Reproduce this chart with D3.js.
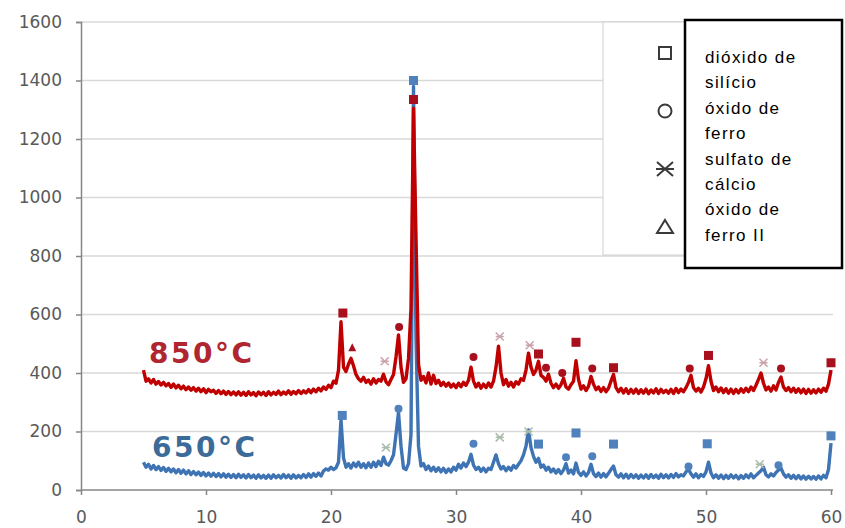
<!DOCTYPE html>
<html>
<head>
<meta charset="utf-8">
<script src="https://cdn.jsdelivr.net/npm/d3@7"></script>
<style>
  html, body { margin: 0; padding: 0; background: #fff; }
  svg { display: block; }
</style>
</head>
<body>
<div id="chart"></div>
<script>
// 2-theta grid: 5.0 .. 60.0 in steps of 0.2 (276 points)
const twoTheta = d3.range(276).map(i => +(5 + i * 0.2).toFixed(1));

// intensities, one row = 2 degrees
const int850 = [
  410, 372, 380, 366, 378, 362, 371, 359, 368, 356,
  364, 351, 362, 349, 358, 346, 355, 343, 352, 341,
  350, 338, 348, 336, 346, 333, 344, 336, 341, 330,
  340, 329, 338, 327, 337, 326, 335, 325, 336, 324,
  334, 323, 336, 325, 333, 322, 335, 326, 334, 323,
  336, 325, 334, 327, 338, 326, 335, 328, 339, 327,
  337, 329, 340, 330, 339, 332, 343, 333, 345, 336,
  348, 339, 352, 344, 358, 350, 372, 365, 410, 575,
  420, 405, 430, 450, 425, 395, 380, 372, 385, 368,
  376, 362, 380, 366, 378, 372, 396, 370, 360, 378,
  395, 455, 530, 420, 368, 380, 450, 620, 1305, 860,
  430, 375, 388, 366, 400, 362, 392, 364, 375, 357,
  368, 355, 366, 352, 362, 350, 365, 353, 368, 358,
  375, 420, 372, 352, 365, 348, 362, 350, 366, 352,
  372, 420, 492, 400, 360, 378, 355, 368, 352, 370,
  362, 380, 375, 410, 468, 420, 395, 410, 440, 392,
  385, 372, 396, 365, 350, 362, 348, 360, 382, 352,
  345, 360, 372, 442, 378, 345, 356, 340, 354, 388,
  362, 343, 352, 337, 350, 336, 348, 372, 395, 350,
  336, 348, 332, 346, 330, 344, 331, 345, 330, 343,
  331, 345, 329, 342, 332, 346, 330, 344, 333, 341,
  331, 344, 330, 347, 333, 345, 336, 350, 368, 392,
  350, 338, 348, 335, 352, 380, 425, 372, 340, 352,
  336, 349, 333, 346, 331, 345, 330, 344, 332, 346,
  334, 348, 336, 352, 340, 358, 378, 400, 365, 342,
  352, 338, 356, 342, 368, 386, 352, 340, 350, 336,
  348, 334, 346, 332, 345, 330, 344, 331, 343, 332,
  345, 334, 348, 338, 362, 410
];

const int650 = [
  95, 78, 88, 72, 84, 70, 80, 67, 77, 64,
  74, 62, 72, 59, 70, 57, 68, 55, 66, 53,
  63, 52, 61, 50, 60, 48, 58, 47, 57, 46,
  56, 45, 55, 44, 54, 43, 53, 42, 54, 43,
  52, 41, 53, 42, 51, 40, 52, 41, 50, 40,
  51, 40, 52, 42, 50, 41, 53, 42, 51, 40,
  52, 41, 50, 42, 53, 43, 55, 44, 56, 47,
  58, 48, 65, 72, 68, 78, 70, 76, 95, 240,
  110, 78, 90, 75, 92, 80, 95, 78, 90, 76,
  92, 78, 95, 80, 98, 84, 112, 90, 85, 100,
  120, 190, 265, 150, 75, 70, 90, 190, 1380, 520,
  150, 82, 90, 70, 82, 66, 78, 64, 76, 62,
  74, 60, 72, 62, 78, 68, 88, 75, 92, 80,
  95, 122, 85, 70, 78, 64, 75, 62, 74, 70,
  95, 120, 90, 72, 80, 66, 78, 68, 84, 75,
  88, 100, 120, 150, 205, 145, 115, 95, 108, 78,
  85, 68, 78, 62, 72, 58, 70, 56, 68, 90,
  58, 68, 55, 92, 60, 50, 62, 48, 60, 88,
  56, 46, 58, 44, 56, 45, 57, 70, 82, 52,
  44, 55, 42, 54, 41, 53, 42, 52, 40, 51,
  41, 52, 40, 53, 42, 51, 40, 54, 42, 52,
  41, 53, 43, 56, 45, 52, 48, 62, 70, 55,
  44, 55, 42, 53, 46, 62, 95, 58, 42, 52,
  40, 51, 39, 50, 40, 52, 41, 50, 38, 49,
  40, 52, 42, 55, 42, 50, 58, 66, 78, 52,
  45, 55, 48, 60, 68, 75, 55, 44, 52, 40,
  50, 39, 49, 38, 48, 37, 47, 38, 46, 37,
  48, 38, 50, 42, 70, 160
];

// phase markers: [2theta, intensity, phase]
const marks850 = [
  [20.95, 605, 'sq'], [21.7, 488, 'tri'], [24.3, 440, 'ast'], [25.45, 557, 'ci'],
  [26.6, 1335, 'sq'], [31.4, 455, 'ci'], [33.5, 525, 'ast'], [35.9, 495, 'ast'],
  [36.6, 465, 'sq'], [37.2, 418, 'ci'], [38.5, 400, 'ci'], [39.6, 505, 'sq'],
  [40.9, 415, 'ci'], [42.6, 418, 'sq'], [48.7, 415, 'ci'], [50.2, 460, 'sq'],
  [54.6, 435, 'ast'], [56.0, 415, 'ci'], [60.0, 435, 'sq']
];
const marks650 = [
  [20.9, 255, 'sq'], [24.4, 145, 'ast'], [25.4, 278, 'ci'], [26.6, 1400, 'sq'],
  [31.4, 158, 'ci'], [33.5, 180, 'ast'], [35.8, 200, 'ast'], [36.6, 157, 'sq'],
  [38.8, 112, 'ci'], [39.6, 195, 'sq'], [40.9, 115, 'ci'], [42.6, 157, 'sq'],
  [48.6, 80, 'ci'], [50.1, 158, 'sq'], [54.3, 88, 'ast'], [55.8, 85, 'ci'],
  [60.0, 185, 'sq']
];

const yTicks = [0, 200, 400, 600, 800, 1000, 1200, 1400, 1600];
const xTicks = [0, 10, 20, 30, 40, 50, 60];
const legendShapes = ['sq', 'ci', 'ast', 'tri'];
const legendLines = ['dióxido de', 'silício', 'óxido de', 'ferro', 'sulfato de', 'cálcio', 'óxido de', 'ferro II'];

const W = 845, H = 528;
const svg = d3.select('#chart').append('svg').attr('width', W).attr('height', H);

const x = d3.scaleLinear().domain([0, 60]).range([81, 831]);
const y = d3.scaleLinear().domain([0, 1600]).range([490, 22]);

// gridlines
svg.append('g').selectAll('line').data(yTicks.filter(d => d > 0)).join('line')
  .attr('x1', 81).attr('x2', 833).attr('y1', d => y(d)).attr('y2', d => y(d))
  .attr('stroke', '#d9d9d9').attr('stroke-width', 1.5);

// axes
const yAxis = svg.append('g').attr('transform', 'translate(81,0)')
  .call(d3.axisLeft(y).tickValues(yTicks).tickFormat(d3.format('d')).tickSize(5).tickPadding(14));
const xAxis = svg.append('g').attr('transform', 'translate(0,490)')
  .call(d3.axisBottom(x).tickValues(xTicks).tickFormat(d3.format('d')).tickSize(5).tickPadding(16));
[yAxis, xAxis].forEach(g => {
  g.select('.domain').attr('stroke', '#868686').attr('stroke-width', 1.5);
  g.selectAll('.tick line').attr('stroke', '#868686').attr('stroke-width', 1.5);
  g.selectAll('.tick text').attr('fill', '#595959')
    .style('font-family', 'DejaVu Sans, sans-serif').style('font-size', '17px');
});
xAxis.select('.domain').attr('d', 'M81,0H833');

// legend (grey frame from the chart)
svg.append('rect').attr('x', 603).attr('y', 22).attr('width', 230).attr('height', 233)
  .attr('fill', '#fff').attr('stroke', '#cfcfcf').attr('stroke-width', 1);

function drawMark(g, shape, cx, cy, color, s) {
  if (shape === 'sq') {
    g.append('rect').attr('x', cx - s / 2).attr('y', cy - s / 2).attr('width', s).attr('height', s).attr('fill', color);
  } else if (shape === 'ci') {
    g.append('circle').attr('cx', cx).attr('cy', cy).attr('r', s / 2).attr('fill', color);
  } else if (shape === 'tri') {
    g.append('path').attr('d', `M${cx},${cy - s / 2}L${cx + s / 2},${cy + s / 2}L${cx - s / 2},${cy + s / 2}Z`).attr('fill', color);
  } else {
    const r = s / 2;
    g.append('path')
      .attr('d', `M${cx - r},${cy - r}L${cx + r},${cy + r}M${cx - r},${cy + r}L${cx + r},${cy - r}M${cx - r},${cy}L${cx + r},${cy}`)
      .attr('stroke', color).attr('stroke-width', 1.5).attr('fill', 'none');
  }
}

// lines
const line = d3.line().x((d, i) => x(twoTheta[i])).y(d => y(d));
svg.append('path').datum(int650).attr('d', line)
  .attr('fill', 'none').attr('stroke', '#3f74b4').attr('stroke-width', 3.4).attr('stroke-linejoin', 'round');
svg.append('path').datum(int850).attr('d', line)
  .attr('fill', 'none').attr('stroke', '#c00000').attr('stroke-width', 3.4).attr('stroke-linejoin', 'round');

// markers
const mg = svg.append('g');
marks650.forEach(m => drawMark(mg, m[2], x(m[0]), y(m[1]), m[2] === 'ast' ? '#a9bba9' : '#4f81bd', m[2] === 'sq' ? 9 : 8));
marks850.forEach(m => drawMark(mg, m[2], x(m[0]), y(m[1]), m[2] === 'ast' ? '#c9a2aa' : '#a8101e', m[2] === 'sq' ? 9 : 8));

// temperature labels
svg.append('text').attr('x', 149).attr('y', 363).text('850°C')
  .attr('fill', '#b02630').style('font-family', 'DejaVu Sans, sans-serif')
  .style('font-weight', 'bold').style('font-size', '28px').style('letter-spacing', '2.5px');
svg.append('text').attr('x', 152).attr('y', 457).text('650°C')
  .attr('fill', '#3b6b98').style('font-family', 'DejaVu Sans, sans-serif')
  .style('font-weight', 'bold').style('font-size', '28px').style('letter-spacing', '2.5px');

// legend symbols (outlined)
const lg = svg.append('g').attr('fill', 'none').attr('stroke', '#3a3a3a').attr('stroke-width', 2);
legendShapes.forEach((s, i) => {
  const cx = 665, cy = 53 + i * 58;
  if (s === 'sq') lg.append('rect').attr('x', cx - 6).attr('y', cy - 6).attr('width', 12).attr('height', 12);
  else if (s === 'ci') lg.append('circle').attr('cx', cx).attr('cy', cy).attr('r', 6.5);
  else if (s === 'tri') lg.append('path').attr('d', `M${cx},${cy - 7}L${cx + 8},${cy + 6}L${cx - 8},${cy + 6}Z`);
  else lg.append('path').attr('d', `M${cx - 8},${cy - 7}L${cx + 8},${cy + 7}M${cx - 8},${cy + 7}L${cx + 8},${cy - 7}M${cx - 9},${cy}L${cx + 9},${cy}`);
});

// black text box on top
svg.append('rect').attr('x', 685).attr('y', 20).attr('width', 157).attr('height', 248)
  .attr('fill', '#fff').attr('stroke', '#000').attr('stroke-width', 2.5);
svg.append('g').selectAll('text').data(legendLines).join('text')
  .attr('x', 705).attr('y', (d, i) => 63 + i * 25.4).text(d => d)
  .attr('fill', '#000').style('font-family', 'Liberation Sans, Arial, sans-serif')
  .style('font-size', '17px').style('letter-spacing', '1.4px');
</script>
</body>
</html>
